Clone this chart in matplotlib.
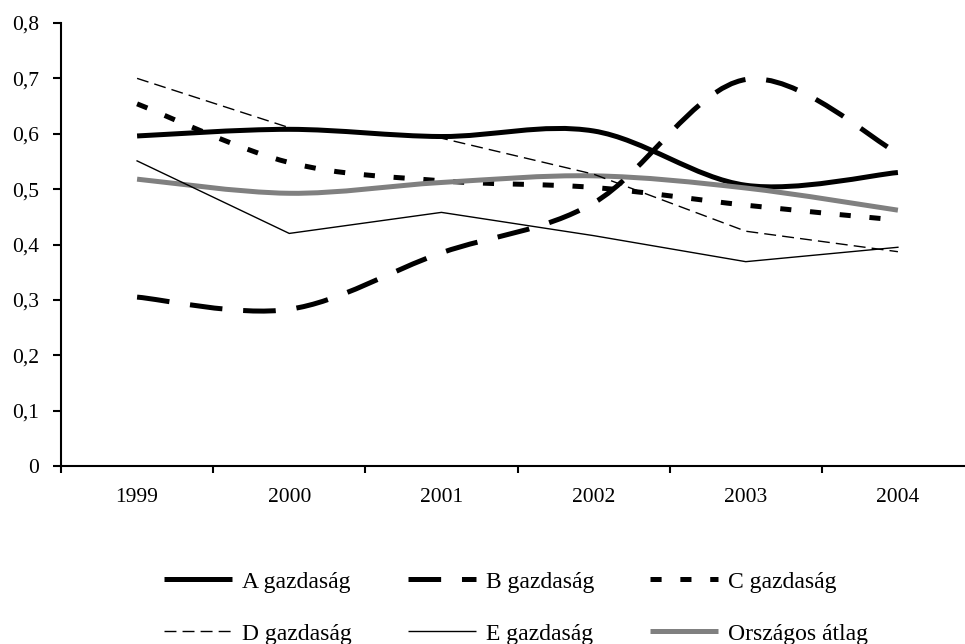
import numpy as np
import matplotlib
matplotlib.use("Agg")
import matplotlib.pyplot as plt
from matplotlib.path import Path
import matplotlib.patches as patches
from matplotlib.lines import Line2D
import matplotlib.ticker as ticker

plt.rcParams['font.family'] = ['Liberation Serif', 'DejaVu Serif']
plt.rcParams['lines.scale_dashes'] = False

# ----------------------------------------------------------------
# données
years = ['1999', '2000', '2001', '2002', '2003', '2004']
a_gazd = [0.596, 0.608, 0.595, 0.605, 0.507, 0.530]
b_gazd = [0.305, 0.283, 0.385, 0.475, 0.698, 0.565]
c_gazd = [0.654, 0.548, 0.515, 0.503, 0.471, 0.444]
d_gazd = [0.700, 0.611, 0.592, 0.527, 0.424, 0.387]
e_gazd = [0.551, 0.420, 0.458, 0.416, 0.369, 0.395]
orsz_atlag = [0.518, 0.4925, 0.512, 0.524, 0.502, 0.462]
labels = ['A gazdaság', 'B gazdaság', 'C gazdaság',
          'D gazdaság', 'E gazdaság', 'Országos átlag']

# styles : (couleur, épaisseur, tirets en points, lissé ?)
styles = [
    ('black', 3.6, None, True),
    ('black', 3.6, (0, (23.5, 15.0)), True),
    ('black', 3.6, (0, (8.0, 13.5)), True),
    ('black', 1.0, (0, (8.6, 4.4)), False),
    ('black', 1.0, None, False),
    ('#808080', 3.6, None, True),
]


def smooth_path(x, y):
    # courbe de Bézier façon Excel (lissage)
    pts = np.column_stack([x, y]).astype(float)
    n = len(pts)
    verts = [pts[0]]
    codes = [Path.MOVETO]
    for i in range(n - 1):
        p0 = pts[max(i - 1, 0)]
        p1 = pts[i]
        p2 = pts[i + 1]
        p3 = pts[min(i + 2, n - 1)]
        c1 = p1 + (p2 - p0) / 6.0
        c2 = p2 - (p3 - p1) / 6.0
        verts += [c1, c2, p2]
        codes += [Path.CURVE4] * 3
    return Path(verts, codes)


fig = plt.figure(figsize=(9.65, 6.44), dpi=100)
ax = fig.add_axes([61 / 965, 1 - 466 / 644, (974 - 61) / 965, 443 / 644])

x = np.arange(len(years))
series = [a_gazd, b_gazd, c_gazd, d_gazd, e_gazd, orsz_atlag]
handles = []
for vals, lab, (col, lw, ls, smooth) in zip(series, labels, styles):
    lstyle = ls if ls is not None else '-'
    if smooth:
        patch = patches.PathPatch(smooth_path(x, vals), fill=False,
                                  edgecolor=col, linewidth=lw,
                                  linestyle=lstyle, capstyle='butt',
                                  joinstyle='round')
        ax.add_patch(patch)
    else:
        ax.plot(x, vals, color=col, linewidth=lw, linestyle=lstyle,
                solid_joinstyle='miter', dash_capstyle='butt')
    handles.append(Line2D([], [], color=col, linewidth=lw, linestyle=lstyle,
                          dash_capstyle='butt', solid_capstyle='butt'))

ax.set_xlim(-0.5, len(years) - 0.5)
ax.set_ylim(0, 0.8)

for s in ['top', 'right']:
    ax.spines[s].set_visible(False)
for s in ['left', 'bottom']:
    ax.spines[s].set_linewidth(1.5)

ax.set_yticks(np.arange(0, 0.81, 0.1))
ax.yaxis.set_major_formatter(ticker.FuncFormatter(
    lambda v, p: '0' if abs(v) < 1e-9 else ('%.1f' % v).replace('.', ',')))
ax.tick_params(axis='y', direction='out', length=6, width=1.5, pad=10,
               labelsize=15.5)

ax.set_xticks(np.arange(-0.5, len(years)), labels=[''] * (len(years) + 1))
ax.set_xticks(x, labels=years, minor=True)
ax.tick_params(axis='x', which='major', direction='out', length=5, width=1.5)
ax.tick_params(axis='x', which='minor', length=0, pad=15.5, labelsize=15.5)

# légende en 2 lignes (remplissage par colonnes -> réordonner)
order = [0, 3, 1, 4, 2, 5]
fig.legend([handles[i] for i in order], [labels[i] for i in order],
           ncol=3, loc='upper left', bbox_to_anchor=(164 / 965, 1 - 571 / 644),
           frameon=False, fontsize=17, handlelength=2.9, handletextpad=0.42,
           columnspacing=2.35, labelspacing=1.3, borderpad=0, borderaxespad=0)

plt.savefig('out.png', dpi=100)
